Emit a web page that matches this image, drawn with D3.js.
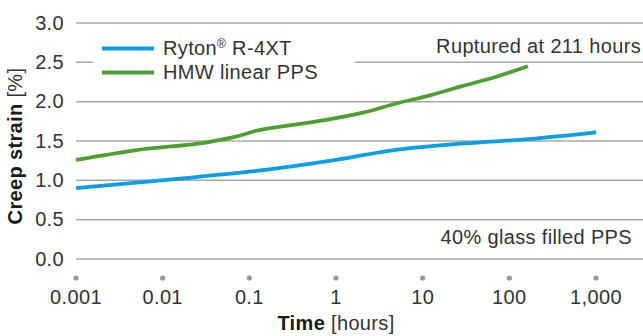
<!DOCTYPE html>
<html>
<head>
<meta charset="utf-8">
<title>Creep strain</title>
<script src="https://d3js.org/d3.v7.min.js"></script>
<style>
    body { margin: 0; background: white; }
    text { font-family: "Liberation Sans", Arial, sans-serif; fill: #333; letter-spacing: 0.35px; }
</style>
</head>
<body>

<svg width="643" height="336"></svg>

<script>

// time in hours, creep strain in %
var rytonTime   = [0.001, 0.012, 0.17, 1, 5.1, 30, 170, 1000];
var rytonStrain = [0.90, 1.01, 1.14, 1.26, 1.39, 1.47, 1.525, 1.61];

var hmwTime   = [0.001, 0.005, 0.035, 0.07, 0.12, 0.4, 1, 2.05, 5.06, 12.2, 29, 72, 164];
var hmwStrain = [1.26, 1.385, 1.49, 1.555, 1.63, 1.72, 1.79, 1.86, 1.98, 2.08, 2.2, 2.32, 2.45];

var xTicks = [0.001, 0.01, 0.1, 1, 10, 100, 1000];
var xTickLabels = ["0.001", "0.01", "0.1", "1", "10", "100", "1,000"];
var yTicks = [0, 0.5, 1, 1.5, 2, 2.5, 3];

var seriesNames = ["Ryton\u00AE R-4XT", "HMW linear PPS"];
var colors = ["#0a9fe4", "#4c9f30"];

var svg = d3.select("svg");

var x = d3.scaleLog().domain([0.001, 1000]).range([76, 596]);
var y = d3.scaleLinear().domain([0, 3]).range([259, 23]);
var right = 643;

// gridlines (the 2.5 line is broken by the legend)
svg.append("g")
    .selectAll("line")
    .data(yTicks)
    .enter()
    .append("line")
    .attr("x1", x(0.001))
    .attr("x2", right)
    .attr("y1", d => y(d))
    .attr("y2", d => y(d))
    .attr("stroke", "#a8a8a8")
    .attr("stroke-width", 1.5)
    .attr("stroke-dasharray", d => d === 2.5 ? "17,262,400" : null);

// y tick labels
svg.append("g")
    .selectAll("text")
    .data(yTicks)
    .enter()
    .append("text")
    .text(d => d.toFixed(1))
    .attr("x", 64)
    .attr("y", d => y(d))
    .attr("dy", "0.34em")
    .attr("text-anchor", "end")
    .style("font-size", "20px");

// x ticks are grey dots
svg.append("g")
    .selectAll("circle")
    .data(xTicks)
    .enter()
    .append("circle")
    .attr("cx", d => x(d))
    .attr("cy", 278)
    .attr("r", 2.6)
    .attr("fill", "#9a9a9a");

svg.append("g")
    .selectAll("text")
    .data(xTicks)
    .enter()
    .append("text")
    .text((d, i) => xTickLabels[i])
    .attr("x", d => x(d))
    .attr("y", 304)
    .attr("text-anchor", "middle")
    .style("font-size", "20px");

// lines
var line = d3.line()
    .x(d => x(d[0]))
    .y(d => y(d[1]))
    .curve(d3.curveMonotoneX);

var series = [d3.zip(rytonTime, rytonStrain), d3.zip(hmwTime, hmwStrain)];

svg.append("g")
    .selectAll("path")
    .data(series)
    .enter()
    .append("path")
    .attr("d", line)
    .attr("fill", "none")
    .attr("stroke", (d, i) => colors[i])
    .attr("stroke-width", 3.8);

// legend
var legend = svg.append("g")
    .selectAll("g")
    .data(seriesNames)
    .enter()
    .append("g")
    .attr("transform", (d, i) => "translate(102," + (48.5 + i * 24) + ")");

legend.append("line")
    .attr("x1", 0)
    .attr("x2", 52)
    .attr("stroke", (d, i) => colors[i])
    .attr("stroke-width", 4);

legend.append("text")
    .attr("x", 61)
    .attr("y", 6.5)
    .style("font-size", "20px")
    .each(function(d, i) {
        var t = d3.select(this);
        if (i === 0) {
            t.append("tspan").text("Ryton");
            t.append("tspan").text("\u00AE").attr("dy", -7).style("font-size", "12px");
            t.append("tspan").text(" R-4XT").attr("dy", 7);
        } else {
            t.text(d);
        }
    });

// notes
svg.append("text")
    .text("Ruptured at 211 hours")
    .attr("x", 641)
    .attr("y", 53)
    .attr("text-anchor", "end")
    .style("font-size", "20px");

svg.append("text")
    .text("40% glass filled PPS")
    .attr("x", 632)
    .attr("y", 244)
    .attr("text-anchor", "end")
    .style("font-size", "20px");

// axis titles
var yTitle = svg.append("text")
    .attr("transform", "translate(22,146) rotate(-90)")
    .attr("text-anchor", "middle")
    .style("font-size", "20px");
yTitle.append("tspan").text("Creep strain").style("font-weight", "bold").style("fill", "#1a1a1a");
yTitle.append("tspan").text(" [%]");

var xTitle = svg.append("text")
    .attr("x", 336)
    .attr("y", 330)
    .attr("text-anchor", "middle")
    .style("font-size", "20px");
xTitle.append("tspan").text("Time").style("font-weight", "bold").style("fill", "#1a1a1a");
xTitle.append("tspan").text(" [hours]");

</script>
</body>
</html>
